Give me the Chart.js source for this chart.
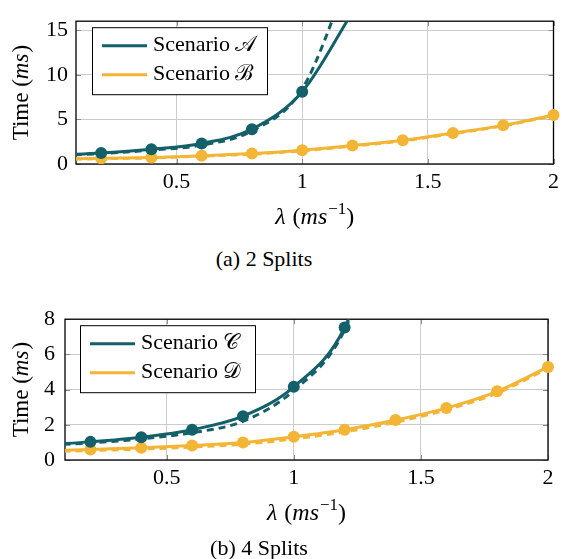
<!DOCTYPE html>
<html><head><meta charset="utf-8">
<script src="https://cdn.jsdelivr.net/npm/chart.js@4/dist/chart.umd.min.js"></script>
<style>
body{margin:0;background:#fff;width:564px;height:559px;position:relative;overflow:hidden;font-family:"Liberation Serif",serif;}
canvas{position:absolute;left:0;}
.cap{position:absolute;font-size:22px;transform:translate(-50%,-50%);white-space:nowrap;color:#000;}
</style></head><body>
<canvas id="c1" width="564" height="240" style="top:0"></canvas>
<canvas id="c2" width="564" height="240" style="top:296px"></canvas>
<div class="cap" style="left:264px;top:259px">(a) 2 Splits</div>
<div class="cap" style="left:259px;top:548px">(b) 4 Splits</div>
<script>
// ---- data ----
const lambdaA = [0, 0.2, 0.4, 0.6, 0.8, 1.0, 1.2];
const timeA = [0.95, 1.24, 1.65, 2.3, 3.9, 8.1, 17];
const timeADashed = [0.9, 1.17, 1.56, 2.12, 3.7, 8.4, 22];
const lambdaB = [0, 0.2, 0.4, 0.6, 0.8, 1.0, 1.2, 1.4, 1.6, 1.8, 2.0];
const timeB = [0.53, 0.65, 0.72, 0.93, 1.17, 1.55, 2.06, 2.65, 3.47, 4.33, 5.5];
const timeBDashed = [0.5, 0.6, 0.68, 0.88, 1.1, 1.48, 2.0, 2.58, 3.4, 4.28, 5.45];

const lambdaC = [0, 0.2, 0.4, 0.6, 0.8, 1.0, 1.2, 1.4];
const timeC = [0.85, 1.03, 1.29, 1.72, 2.49, 4.16, 7.53, 16];
const timeCDashed = [0.82, 0.97, 1.2, 1.55, 2.2, 3.95, 7.4, 16];
const lambdaD = [0, 0.2, 0.4, 0.6, 0.8, 1.0, 1.2, 1.4, 1.6, 1.8, 2.0];
const timeD = [0.5, 0.6, 0.69, 0.82, 0.99, 1.32, 1.72, 2.27, 2.95, 3.9, 5.29];
const timeDDashed = [0.45, 0.54, 0.62, 0.74, 0.9, 1.2, 1.6, 2.15, 2.85, 3.8, 5.2];

const xTicks = [0.5, 1, 1.5, 2];
const xTickLabels = ['0.5', '1', '1.5', '2'];
const yTicksTop = [0, 5, 10, 15];
const yTickLabelsTop = ['0', '5', '10', '15'];
const yTicksBottom = [0, 2, 4, 6, 8];
const yTickLabelsBottom = ['0', '2', '4', '6', '8'];

const TEAL = '#13606a';
const GOLD = '#f2b535';
const SERIF = '"Liberation Serif", "DejaVu Serif", serif';

function pts(xs, ys) { return xs.map((x, i) => ({ x: x, y: ys[i] })); }

function solid(label, xs, ys, color) {
  return { label, data: pts(xs, ys), borderColor: color, backgroundColor: color,
    borderWidth: 3, pointRadius: 6, pointBackgroundColor: color, pointBorderWidth: 0,
    cubicInterpolationMode: 'monotone', order: 1, clip: { left: 0, top: 0, right: 10, bottom: 0 } };
}
function dashed(label, xs, ys, color) {
  return { label, data: pts(xs, ys), borderColor: color, backgroundColor: color,
    borderWidth: 3, borderDash: [7, 5], pointRadius: 0,
    cubicInterpolationMode: 'monotone', order: 2, clip: { left: 0, top: 0, right: 10, bottom: 0 } };
}

function drawRich(ctx, segs, x, y, align, size) {
  let w = 0;
  const parts = segs.map(([t, s]) => {
    const fs = s === 'sup' ? Math.round(size * 0.7) : size;
    const font = (s === 'i' ? 'italic ' : '') + fs + 'px ' + SERIF;
    ctx.font = font;
    const pw = ctx.measureText(t).width + (s === 'i' ? 1 : 0);
    w += pw;
    return { t, font, w: pw, dy: s === 'sup' ? -size * 0.36 : 0 };
  });
  let cx = align === 'center' ? x - w / 2 : x;
  ctx.textBaseline = 'middle'; ctx.textAlign = 'left'; ctx.fillStyle = '#000';
  parts.forEach(p => { ctx.font = p.font; ctx.fillText(p.t, cx, y + p.dy); cx += p.w; });
}

const deco = {
  id: 'deco',
  beforeDatasetsDraw(chart, args, o) {
    const ctx = chart.ctx, a = chart.chartArea;
    const xs = chart.scales.x, ys = chart.scales.y;
    ctx.save();
    ctx.strokeStyle = '#8c8c8c'; ctx.lineWidth = 1;
    const L = 5;
    ctx.beginPath();
    xs.ticks.forEach(t => {
      const px = Math.round(xs.getPixelForValue(t.value)) + 0.5;
      ctx.moveTo(px, a.bottom); ctx.lineTo(px, a.bottom - L);
      ctx.moveTo(px, a.top); ctx.lineTo(px, a.top + L);
    });
    ys.ticks.forEach(t => {
      const py = Math.round(ys.getPixelForValue(t.value)) + 0.5;
      ctx.moveTo(a.left, py); ctx.lineTo(a.left + L, py);
      ctx.moveTo(a.right, py); ctx.lineTo(a.right - L, py);
    });
    ctx.stroke();
    ctx.strokeStyle = '#000'; ctx.lineWidth = 1.3;
    ctx.strokeRect(a.left, a.top, a.right - a.left, a.bottom - a.top);
    ctx.restore();
  },
  afterDraw(chart, args, o) {
    const ctx = chart.ctx, a = chart.chartArea;
    ctx.save();
    // x title
    drawRich(ctx, [['λ', 'i'], [' (', ''], ['ms', 'i'], ['−1', 'sup'], [')', '']],
      (a.left + a.right) / 2, a.bottom + 54, 'center', 24);
    // y title
    ctx.save();
    ctx.translate(22, (a.top + a.bottom) / 2);
    ctx.rotate(-Math.PI / 2);
    drawRich(ctx, [['Time (', ''], ['ms', 'i'], [')', '']], 0, 0, 'center', 23);
    ctx.restore();
    // legend
    const bx = a.left + o.dx, by = a.top + 6, bw = 175, bh = 67;
    ctx.fillStyle = '#fff';
    ctx.fillRect(bx, by, bw, bh);
    ctx.strokeStyle = '#000'; ctx.lineWidth = 1;
    ctx.strokeRect(bx + 0.5, by + 0.5, bw, bh);
    o.entries.forEach((e, i) => {
      const ly = by + 18.5 + i * 29;
      ctx.strokeStyle = e.color; ctx.lineWidth = 3;
      ctx.beginPath(); ctx.moveTo(bx + 10, ly); ctx.lineTo(bx + 55, ly); ctx.stroke();
      drawRich(ctx, [['Scenario ', ''], [e.letter, '']], bx + 61, ly, 'left', 22);
    });
    ctx.restore();
  }
};

function makeChart(id, datasets, yMax, yT, yTL, yWidth, yPad, padRight, legend) {
  return new Chart(document.getElementById(id), {
    type: 'line',
    data: { datasets },
    options: {
      responsive: false, animation: false, devicePixelRatio: 1,
      layout: { padding: { top: 9, right: padRight, left: 0, bottom: 0 } },
      plugins: { legend: { display: false }, tooltip: { enabled: false }, deco: legend },
      scales: {
        x: {
          type: 'linear', min: 0.1, max: 2,
          afterBuildTicks: s => { s.ticks = xTicks.map(v => ({ value: v })); },
          afterFit: s => { s.height = 76; },
          ticks: { font: { family: SERIF, size: 22 }, color: '#000', padding: 5, maxRotation: 0,
            callback: (v, i) => xTickLabels[i] },
          grid: { color: '#cccccc', drawTicks: false, lineWidth: 1 },
          border: { display: false }
        },
        y: {
          type: 'linear', min: 0, max: yMax,
          afterBuildTicks: s => { s.ticks = yT.map(v => ({ value: v })); },
          afterFit: s => { s.width = yWidth; },
          ticks: { font: { family: SERIF, size: 22 }, color: '#000', padding: yPad,
            callback: (v, i) => yTL[i] },
          grid: { color: '#cccccc', drawTicks: false, lineWidth: 1 },
          border: { display: false }
        }
      }
    },
    plugins: [deco]
  });
}

makeChart('c1', [
  solid('Scenario A', lambdaA, timeA, TEAL),
  solid('Scenario B', lambdaB, timeB, GOLD),
  dashed('Scenario A (dashed)', lambdaA, timeADashed, TEAL),
  dashed('Scenario B (dashed)', lambdaB, timeBDashed, GOLD)
], 16, yTicksTop, yTickLabelsTop, 76, 8, 5,
  { dx: 16, entries: [{ letter: '𝒜', color: TEAL }, { letter: 'ℬ', color: GOLD }] });

makeChart('c2', [
  solid('Scenario C', lambdaC, timeC, TEAL),
  solid('Scenario D', lambdaD, timeD, GOLD),
  dashed('Scenario C (dashed)', lambdaC, timeCDashed, TEAL),
  dashed('Scenario D (dashed)', lambdaD, timeDDashed, GOLD)
], 8, yTicksBottom, yTickLabelsBottom, 65, 10, 16,
  { dx: 15, entries: [{ letter: '𝒞', color: TEAL }, { letter: '𝒟', color: GOLD }] });
</script>
</body></html>
